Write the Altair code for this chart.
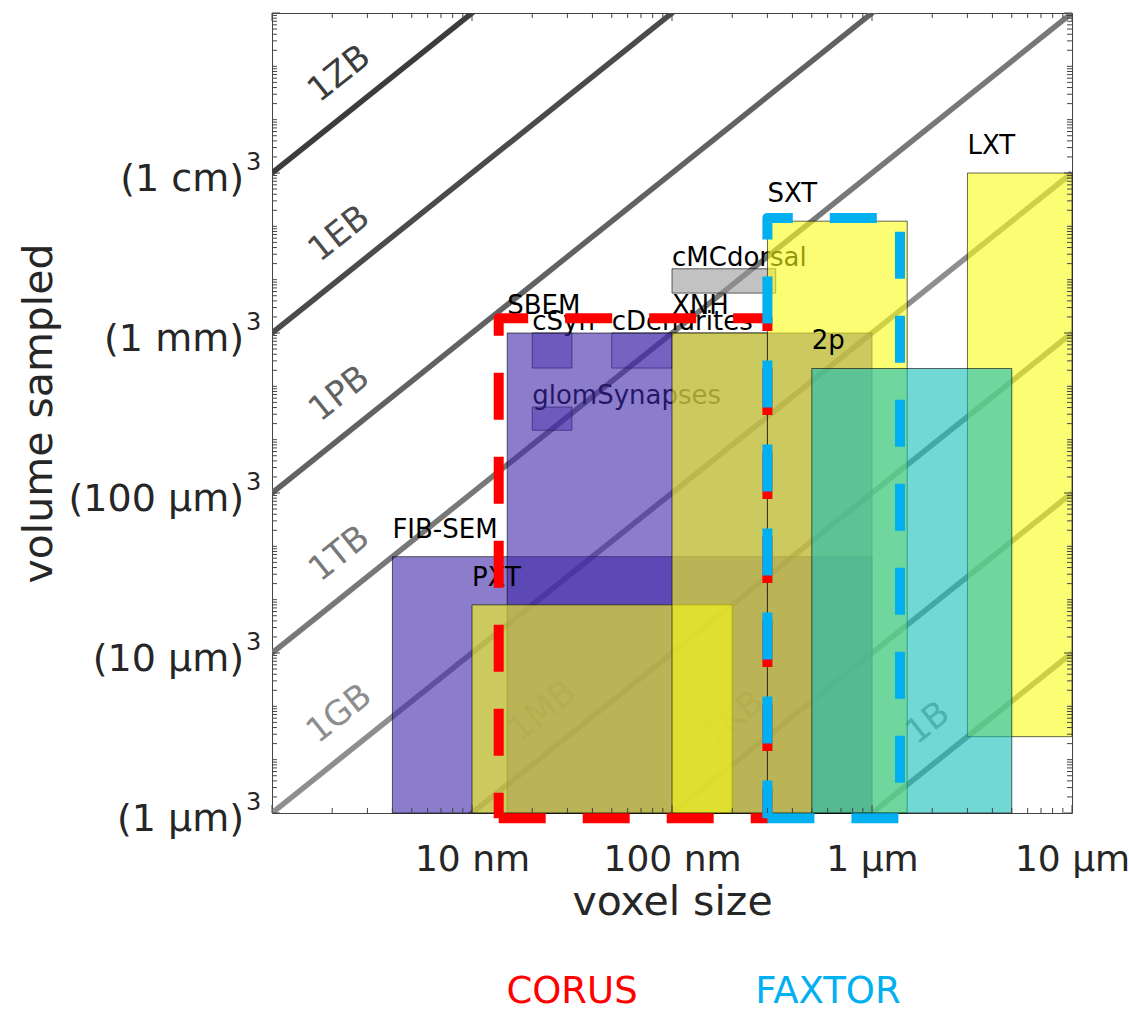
import json
import altair as alt
import pandas as pd

# ---------------- data ----------------
# axes (voxel size in nm, volume in µm³)
X_TICK_VALUES = [10, 100, 1000, 10000]
X_TICK_LABELS = ["10 nm", "100 nm", "1 µm", "10 µm"]
Y_TICK_VALUES = [1, 1e3, 1e6, 1e9, 1e12]
Y_TICK_BASES = ["(1 µm)", "(10 µm)", "(100 µm)", "(1 mm)", "(1 cm)"]
Y_TICK_POWER = "3"

# constant data-size lines (1 byte per voxel)
LINE_NAMES = ["1ZB", "1EB", "1PB", "1TB", "1GB", "1MB", "1KB", "1B"]
LINE_BYTES = [1e21, 1e18, 1e15, 1e12, 1e9, 1e6, 1e3, 1]
LINE_LABEL_VOXEL = [2.8, 2.8, 2.8, 2.8, 2.8, 29, 260, 2450]

# imaging modalities
MOD_NAMES = ["FIB-SEM", "SBEM", "PXT", "XNH", "SXT", "LXT", "2p"]
MOD_VOX_MIN = [4, 15, 10, 100, 300, 3000, 500]
MOD_VOX_MAX = [1000, 1000, 200, 300, 1500, 10000, 5000]
MOD_VOL_MIN = [1, 1, 1, 1, 1, 27, 1]
MOD_VOL_MAX = [6.4e4, 1e9, 8e3, 1e9, 1.25e11, 1e12, 2.16e8]

# datasets
DS_NAMES = ["cSyn", "cDendrites", "glomSynapses", "cMCdorsal"]
DS_VOX_MIN = [20, 50, 20, 100]
DS_VOX_MAX = [31.6, 100, 31.6, 330]
DS_VOL_MIN = [2.2e8, 2.2e8, 1.5e7, 5.6e9]
DS_VOL_MAX = [1e9, 1e9, 4.1e7, 1.6e10]

# projects
PROJ_NAMES = ["CORUS", "FAXTOR"]
PROJ_VOX_MIN = [13.6, 300]
PROJ_VOX_MAX = [300, 1380]
PROJ_VOL_MIN = [0.8, 0.8]
PROJ_VOL_MAX = [1.9e9, 1.44e11]

# minor tick positions
X_TICKS_ALL = [m * 10 ** k for k in range(4) for m in range(1, 10)] + [1e4]
Y_TICKS_ALL = [m * 10.0 ** k for k in range(15) for m in range(1, 10)] + [1e15]

# ---------------- styles ----------------
FONT = "DejaVu Sans"
TXT = "#262626"
PURPLE = "#3e26a8"
YELLOW = "#f9fb15"
TEAL = "#12beb9"
LINE_COLORS = ["#3c3c3c", "#4b4b4b", "#626262", "#787878", "#8e8e8e", "#8a8a8a", "#8a8a8a", "#8a8a8a"]
LINE_LABEL_COLORS = ["#3c3c3c", "#4b4b4b", "#626262", "#787878", "#8e8e8e", "#a0a0a0", "#a0a0a0", "#a0a0a0"]
MOD_COLORS = {"FIB-SEM": PURPLE, "SBEM": PURPLE, "PXT": YELLOW, "XNH": YELLOW,
              "SXT": YELLOW, "LXT": YELLOW, "2p": TEAL}
DS_COLORS = {"cSyn": PURPLE, "cDendrites": PURPLE, "glomSynapses": PURPLE, "cMCdorsal": "#9a9a9a"}
DS_ALPHA = {"cSyn": 0.4, "cDendrites": 0.3, "glomSynapses": 0.4, "cMCdorsal": 0.6}
PROJ_COLORS = {"CORUS": "#ff0000", "FAXTOR": "#00b0f0"}
PROJ_LEGEND_X = {"CORUS": 300, "FAXTOR": 556}
ANGLE = 321.34  # slope of the constant-size lines on screen

W, H = 800, 800


def label_expr(values, labels):
    vals = "[" + ",".join(repr(float(v)) for v in values) + "]"
    labs = json.dumps(labels, ensure_ascii=False)
    return f"indexof({vals}, datum.value) >= 0 ? {labs}[indexof({vals}, datum.value)] : ''"


XSCALE = alt.Scale(type="log", domain=[1, 1e4], nice=False)
YSCALE = alt.Scale(type="log", domain=[1, 1e15], nice=False)
XAXIS = alt.Axis(values=X_TICK_VALUES, labelExpr=label_expr(X_TICK_VALUES, X_TICK_LABELS),
                 ticks=False, tickSize=0, domain=False, grid=False, labelFlush=False,
                 labelOverlap=False, labelLimit=0, labelFont=FONT, labelFontSize=36,
                 labelColor=TXT, labelPadding=29, titleFont=FONT, titleFontSize=41,
                 titleColor=TXT, titleFontWeight="normal", titlePadding=5)
YAXIS = alt.Axis(values=Y_TICK_VALUES, labels=False, ticks=False, tickSize=0, domain=False,
                 grid=False, titleFont=FONT, titleFontSize=41, titleColor=TXT,
                 titleFontWeight="normal", titlePadding=212)


def X(f):
    return alt.X(f"{f}:Q", scale=XSCALE, axis=XAXIS, title="voxel size")


def Y(f):
    return alt.Y(f"{f}:Q", scale=YSCALE, axis=YAXIS, title="volume sampled")


# ---------------- tables ----------------
line_rows = []
for n, b, c in zip(LINE_NAMES, LINE_BYTES, LINE_COLORS):
    for v in (1.0, 1e4):
        line_rows.append({"name": n, "v": v, "V": b * v ** 3 * 1e-9, "col": c})
lines_df = pd.DataFrame(line_rows)

line_lab_df = pd.DataFrame({
    "name": LINE_NAMES,
    "v": LINE_LABEL_VOXEL,
    "V": [b * v ** 3 * 1e-9 for b, v in zip(LINE_BYTES, LINE_LABEL_VOXEL)],
    "col": LINE_LABEL_COLORS,
})

mod_df = pd.DataFrame({"name": MOD_NAMES, "x0": MOD_VOX_MIN, "x1": MOD_VOX_MAX,
                       "y0": MOD_VOL_MIN, "y1": MOD_VOL_MAX})
mod_df["fill"] = mod_df["name"].map(MOD_COLORS)

ds_df = pd.DataFrame({"name": DS_NAMES, "x0": DS_VOX_MIN, "x1": DS_VOX_MAX,
                      "y0": DS_VOL_MIN, "y1": DS_VOL_MAX})
ds_df["fill"] = ds_df["name"].map(DS_COLORS)
ds_df["alpha"] = ds_df["name"].map(DS_ALPHA)

ylab_df = pd.DataFrame({"t": Y_TICK_VALUES, "base": Y_TICK_BASES,
                        "pw": [Y_TICK_POWER] * len(Y_TICK_VALUES)})

# ---------------- layers ----------------
lines = alt.Chart(lines_df).mark_line(clip=True, strokeWidth=5.5).encode(
    x=X("v"), y=Y("V"), detail="name:N", color=alt.Color("col:N", scale=None))

line_labels = alt.Chart(line_lab_df).mark_text(
    angle=ANGLE, fontSize=34, font=FONT, align="center", baseline="middle", dy=-35
).encode(x=X("v"), y=Y("V"), text="name:N", color=alt.Color("col:N", scale=None))

ds_rects = alt.Chart(ds_df).mark_rect(stroke="black", strokeOpacity=0.6, strokeWidth=1).encode(
    x=X("x0"), x2="x1", y=Y("y0"), y2="y1",
    fill=alt.Fill("fill:N", scale=None), fillOpacity=alt.FillOpacity("alpha:Q", scale=None))

ds_labels = alt.Chart(ds_df).mark_text(
    align="left", baseline="alphabetic", dy=-3, fontSize=26, font=FONT, color="black"
).encode(x=X("x0"), y=Y("y1"), text="name:N")

mod_rects = alt.Chart(mod_df).mark_rect(stroke="black", strokeOpacity=0.6, strokeWidth=1,
                                        fillOpacity=0.6).encode(
    x=X("x0"), x2="x1", y=Y("y0"), y2="y1", fill=alt.Fill("fill:N", scale=None))

mod_labels = alt.Chart(mod_df).mark_text(
    align="left", baseline="alphabetic", dy=-19, fontSize=26, font=FONT, color="black"
).encode(x=X("x0"), y=Y("y1"), text="name:N")

proj_layers = []
for n, a0, a1, b0, b1 in zip(PROJ_NAMES, PROJ_VOX_MIN, PROJ_VOX_MAX, PROJ_VOL_MIN, PROJ_VOL_MAX):
    pdf = pd.DataFrame({"i": [0, 1, 2, 3, 4],
                        "v": [a0, a1, a1, a0, a0],
                        "V": [b0, b0, b1, b1, b0]})
    proj_layers.append(
        alt.Chart(pdf).mark_line(strokeWidth=10, strokeDash=[47, 37], strokeJoin="round",
                                 strokeCap="butt", color=PROJ_COLORS[n]).encode(
            x=X("v"), y=Y("V"), order="i:O"))

legend_layers = []
for n in PROJ_NAMES:
    legend_layers.append(
        alt.Chart(pd.DataFrame({"t": [n]})).mark_text(
            fontSize=37, font=FONT, align="center", baseline="alphabetic", color=PROJ_COLORS[n]
        ).encode(x=alt.value(PROJ_LEGEND_X[n]), y=alt.value(990), text="t:N"))

# y tick labels with raised exponent
ylab_base = alt.Chart(ylab_df).mark_text(
    align="right", baseline="alphabetic", fontSize=38, font=FONT, color=TXT, dy=18
).encode(x=alt.value(-28), y=Y("t"), text="base:N")
ylab_pow = alt.Chart(ylab_df).mark_text(
    align="left", baseline="alphabetic", fontSize=24, font=FONT, color=TXT, dy=-3
).encode(x=alt.value(-26), y=Y("t"), text="pw:N")

# tick marks pointing inwards on all four sides
X_MAJ = (1, 10, 100, 1000, 10000)
Y_MAJ = (1, 1e3, 1e6, 1e9, 1e12, 1e15)
xt_major = pd.DataFrame({"t": [v for v in X_TICKS_ALL if v in X_MAJ]})
xt_minor = pd.DataFrame({"t": [v for v in X_TICKS_ALL if v not in X_MAJ]})
yt_major = pd.DataFrame({"t": [v for v in Y_TICKS_ALL if v in Y_MAJ]})
yt_minor = pd.DataFrame({"t": [v for v in Y_TICKS_ALL if v not in Y_MAJ]})

tick_layers = []
TICK_COL = "#444444"
for df, ln in ((xt_major, 8), (xt_minor, 5)):
    tick_layers.append(alt.Chart(df).mark_rule(color=TICK_COL, strokeWidth=1).encode(
        x=X("t"), y=alt.value(H), y2=alt.value(H - ln)))
    tick_layers.append(alt.Chart(df).mark_rule(color=TICK_COL, strokeWidth=1).encode(
        x=X("t"), y=alt.value(0), y2=alt.value(ln)))
for df, ln in ((yt_major, 8), (yt_minor, 5)):
    tick_layers.append(alt.Chart(df).mark_rule(color=TICK_COL, strokeWidth=1).encode(
        y=Y("t"), x=alt.value(0), x2=alt.value(ln)))
    tick_layers.append(alt.Chart(df).mark_rule(color=TICK_COL, strokeWidth=1).encode(
        y=Y("t"), x=alt.value(W), x2=alt.value(W - ln)))

chart = alt.layer(
    lines, line_labels, ds_rects, ds_labels, mod_rects, mod_labels,
    *proj_layers, *tick_layers, ylab_base, ylab_pow, *legend_layers
).properties(
    width=W, height=H,
    autosize=alt.AutoSizeParams(type="none"),
    padding={"left": 272, "top": 13, "right": 57, "bottom": 200},
).configure(font=FONT).configure_view(stroke="#444444", strokeWidth=1)

chart.save("out.html", embed_options={"renderer": "svg", "actions": False})
